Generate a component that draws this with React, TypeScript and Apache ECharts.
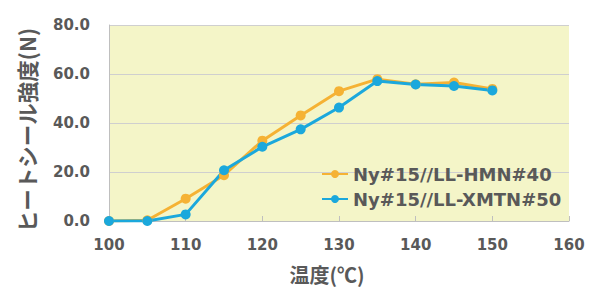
import React, { useEffect, useRef } from "react";
import * as echarts from "echarts";

const temps = [100, 105, 110, 115, 120, 125, 130, 135, 140, 145, 150];
const hmn40 = [0, 0.3, 9.1, 18.7, 32.8, 43.1, 53.0, 57.9, 55.8, 56.5, 53.9];
const xmtn50 = [0, 0, 2.7, 20.7, 30.3, 37.4, 46.3, 57.1, 55.7, 55.1, 53.3];
const seriesNames = ["Ny#15//LL-HMN#40", "Ny#15//LL-XMTN#50"];
const seriesColors = ["#F5B234", "#1BA8DC"];

const FONT = "DejaVu Sans";
const GRAY = "#595959";

export default function App() {
  const ref = useRef<HTMLDivElement>(null);
  useEffect(() => {
    if (!ref.current) return;
    const chart = echarts.init(ref.current, null, { renderer: "svg" });
    const mk = (vals: number[]) => temps.map((t, i) => [t, vals[i]]);
    chart.setOption({
      animation: false,
      backgroundColor: "#ffffff",
      grid: {
        left: 109,
        right: 25,
        top: 25,
        bottom: 69,
        show: true,
        backgroundColor: "#F4F5C8",
        borderWidth: 0,
        outerBoundsMode: "none",
        containLabel: false,
      },
      legend: {
        orient: "vertical",
        left: 316,
        top: 160,
        itemWidth: 26,
        itemHeight: 10,
        itemGap: 7,
        textStyle: { fontFamily: FONT, fontWeight: "bold", fontSize: 18, color: GRAY },
        data: seriesNames,
      },
      xAxis: {
        type: "value",
        min: 100,
        max: 160,
        interval: 10,
        name: "温度(℃)",
        nameLocation: "middle",
        nameGap: 42,
        nameTextStyle: { fontFamily: "Noto Sans CJK JP", fontWeight: "bold", fontSize: 20, lineHeight: 22, color: GRAY, padding: [0, 24, 0, 0] },
        axisLine: { show: true, lineStyle: { color: "#BFBFBF", width: 1 } },
        axisTick: { show: true, inside: true, length: 5, lineStyle: { color: "#BFBFBF" } },
        axisLabel: { fontFamily: FONT, fontWeight: "bold", fontSize: 15, color: GRAY, margin: 16 },
        splitLine: { show: false },
      },
      yAxis: {
        type: "value",
        min: 0,
        max: 80,
        interval: 20,
        name: "ヒートシール強度(N)",
        nameLocation: "middle",
        nameGap: 72,
        nameRotate: 90,
        nameTextStyle: { fontFamily: "Noto Sans CJK JP", fontWeight: "bold", fontSize: 21.5, color: GRAY, padding: [0, 14, 0, 0] },
        axisLine: { show: true, lineStyle: { color: "#BFBFBF", width: 1 } },
        axisTick: { show: false },
        axisLabel: {
          fontFamily: FONT,
          fontWeight: "bold",
          fontSize: 15,
          color: GRAY,
          margin: 19,
          formatter: (v: number) => v.toFixed(1),
        },
        splitLine: { show: true, lineStyle: { color: "#CFCFCF", width: 1 } },
      },
      series: [
        {
          name: seriesNames[0],
          type: "line",
          data: mk(hmn40),
          symbol: "circle",
          symbolSize: 10,
          itemStyle: { color: seriesColors[0] },
          lineStyle: { color: seriesColors[0], width: 3 },
        },
        {
          name: seriesNames[1],
          type: "line",
          data: mk(xmtn50),
          symbol: "circle",
          symbolSize: 10,
          itemStyle: { color: seriesColors[1] },
          lineStyle: { color: seriesColors[1], width: 3 },
        },
      ],
    });
    return () => chart.dispose();
  }, []);
  return <div ref={ref} style={{ width: 594, height: 290, position: "absolute", left: 0, top: 0 }} />;
}
